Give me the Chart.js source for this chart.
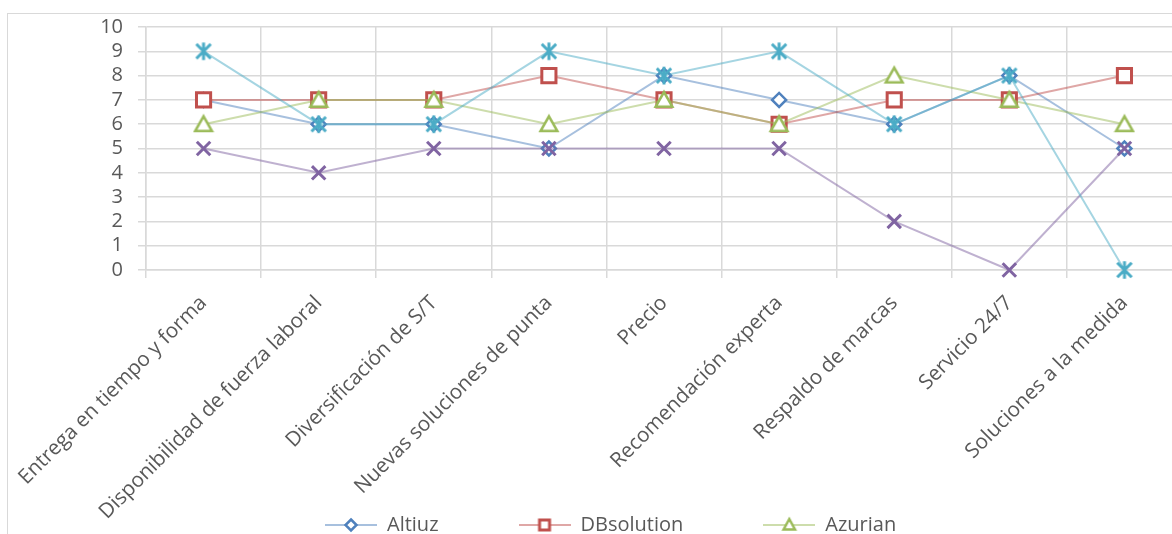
<!DOCTYPE html>
<html>
<head>
<meta charset="utf-8">
<script src="https://cdn.jsdelivr.net/npm/chart.js@4.4.1/dist/chart.umd.min.js"></script>
<style>
  html, body { margin: 0; padding: 0; width: 1172px; height: 534px; overflow: hidden; background: #fff; }
  #frame { position: absolute; left: 7px; top: 13px; width: 1300px; height: 700px;
           border-left: 1.5px solid #d9d9d9; border-top: 1.5px solid #d9d9d9; }
  #c { position: absolute; left: 0; top: 0; }
</style>
</head>
<body>
<div id="frame"></div>
<canvas id="c" width="1195" height="640"></canvas>
<script>
// Evaluation criteria (x axis)
const categories = [
  'Entrega en tiempo y forma',
  'Disponibilidad de fuerza laboral',
  'Diversificación de S/T',
  'Nuevas soluciones de punta',
  'Precio',
  'Recomendación experta',
  'Respaldo de marcas',
  'Servicio 24/7',
  'Soluciones a la medida'
];

// Scores per provider
const altiuz     = [7, 6, 6, 5, 8, 7, 6, 8, 5];
const dbsolution = [7, 7, 7, 8, 7, 6, 7, 7, 8];
const azurian    = [6, 7, 7, 6, 7, 6, 8, 7, 6];
const serie4     = [5, 4, 5, 5, 5, 5, 2, 0, 5];
const serie5     = [9, 6, 6, 9, 8, 9, 6, 8, 0];

const seriesNames = ['Altiuz', 'DBsolution', 'Azurian', 'Serie 4', 'Serie 5'];

// Value axis
const yMin = 0;
const yMax = 10;
const yStep = 1;

const FONT = "'Open Sans', 'Noto Sans', sans-serif";
const TEXT = '#595959';
const GRID = '#d9d9d9';

const COLORS = ['#4f81bd', '#c0504d', '#9bbb59', '#8064a2', '#4bacc6'];

function rgba(hex, a) {
  const n = parseInt(hex.slice(1), 16);
  return `rgba(${(n >> 16) & 255}, ${(n >> 8) & 255}, ${n & 255}, ${a})`;
}

// Open triangle marker, centred on its bounding box
function triangleMark(color, size) {
  const c = document.createElement('canvas');
  c.width = size; c.height = size;
  const g = c.getContext('2d');
  const m = size / 2, h = size * 0.36;
  g.beginPath();
  g.moveTo(m, m - h);
  g.lineTo(m + h * 1.05, m + h * 0.85);
  g.lineTo(m - h * 1.05, m + h * 0.85);
  g.closePath();
  g.fillStyle = '#fff';
  g.fill();
  g.lineWidth = 2.6;
  g.lineJoin = 'miter';
  g.strokeStyle = color;
  g.stroke();
  return c;
}

// Asterisk marker: a diagonal cross with a vertical bar
function starMark(color, size) {
  const c = document.createElement('canvas');
  c.width = size; c.height = size;
  const g = c.getContext('2d');
  const m = size / 2, d = size * 0.36, v = size * 0.44;
  g.strokeStyle = color;
  g.lineWidth = 3;
  g.beginPath();
  g.moveTo(m - d, m - d); g.lineTo(m + d, m + d);
  g.moveTo(m + d, m - d); g.lineTo(m - d, m + d);
  g.moveTo(m, m - v); g.lineTo(m, m + v);
  g.stroke();
  return c;
}

// Legend swatch: a short line with the series marker in the middle
function legendIcon(color, shape) {
  const w = 52, h = 20;
  const c = document.createElement('canvas');
  c.width = w; c.height = h;
  const g = c.getContext('2d');
  const cx = w / 2, cy = h / 2;
  g.strokeStyle = rgba(color, 0.5);
  g.lineWidth = 2;
  g.beginPath(); g.moveTo(0, cy); g.lineTo(w, cy); g.stroke();
  g.fillStyle = '#fff';
  g.strokeStyle = color;
  g.beginPath();
  if (shape === 'diamond') {
    const r = 5.5;
    g.lineWidth = 2.5;
    g.moveTo(cx, cy - r); g.lineTo(cx + r, cy); g.lineTo(cx, cy + r); g.lineTo(cx - r, cy); g.closePath();
  } else if (shape === 'square') {
    const s = 5;
    g.lineWidth = 3;
    g.rect(cx - s, cy - s, 2 * s, 2 * s);
  } else {
    const r = 6;
    g.lineWidth = 2.5;
    g.moveTo(cx, cy - r); g.lineTo(cx + r * 0.95, cy + r * 0.75); g.lineTo(cx - r * 0.95, cy + r * 0.75); g.closePath();
  }
  g.fill();
  g.stroke();
  return c;
}

const legendIcons = [
  legendIcon(COLORS[0], 'diamond'),
  legendIcon(COLORS[1], 'square'),
  legendIcon(COLORS[2], 'triangle')
];

function series(label, data, color, style, radius, borderWidth, order) {
  return {
    label, data, order,
    borderColor: rgba(color, 0.5),
    backgroundColor: rgba(color, 0.5),
    borderWidth: 2,
    tension: 0,
    clip: false,
    pointStyle: style,
    pointRadius: radius,
    pointHoverRadius: radius,
    pointBorderColor: color,
    pointBackgroundColor: '#fff',
    pointBorderWidth: borderWidth,
    pointHoverBorderWidth: borderWidth
  };
}

// Later series are painted over earlier ones
const datasets = [
  series(seriesNames[0], altiuz,     COLORS[0], 'rectRot', 7, 2.5, 5),
  series(seriesNames[1], dbsolution, COLORS[1], 'rect', 10, 3, 4),
  series(seriesNames[2], azurian,    COLORS[2], triangleMark(COLORS[2], 22), 9, 2.5, 3),
  series(seriesNames[3], serie4,     COLORS[3], 'crossRot', 9.5, 3, 2),
  series(seriesNames[4], serie5,     COLORS[4], starMark(COLORS[4], 20), 9, 3, 1)
];

// Legend row: first swatch starts at LEGEND_X, text centred on LEGEND_Y
const LEGEND_X = 325;
const LEGEND_Y = 525;
const legendPlacement = {
  id: 'legendPlacement',
  afterLayout(chart) {
    const lg = chart.legend;
    if (!lg) return;
    const pad = lg.options.labels.padding;
    const w = lg.right - lg.left;
    const h = lg.bottom - lg.top;
    lg.left = LEGEND_X - pad;
    lg.right = lg.left + w;
    lg.top = LEGEND_Y - lg.options.labels.font.size / 2 - pad;
    lg.bottom = lg.top + h;
  }
};

Chart.defaults.font.family = FONT;
Chart.defaults.color = TEXT;

new Chart(document.getElementById('c'), {
  type: 'line',
  data: { labels: categories, datasets },
  plugins: [legendPlacement],
  options: {
    responsive: false,
    animation: false,
    events: [],
    layout: { padding: { top: 27, left: 0, right: 10, bottom: 0 } },
    scales: {
      x: {
        type: 'category',
        offset: true,
        grid: { offset: true, color: GRID, lineWidth: 1.5, tickLength: 8, drawTicks: true },
        border: { color: GRID, width: 1.5 },
        ticks: { autoSkip: false, minRotation: 45, maxRotation: 45, padding: 13, color: TEXT, font: { size: 20.6 } },
        afterFit(scale) { scale.height = 260; }
      },
      y: {
        min: yMin,
        max: yMax,
        grid: { color: GRID, lineWidth: 1.5, tickLength: 8 },
        border: { color: GRID, width: 1.5 },
        ticks: { stepSize: yStep, autoSkip: false, padding: 15, color: TEXT, font: { size: 20, lineHeight: 1 } },
        afterFit(scale) { scale.width = 146; }
      }
    },
    plugins: {
      tooltip: { enabled: false },
      legend: {
        position: 'bottom',
        align: 'start',
        labels: {
          usePointStyle: true,
          pointStyleWidth: 52,
          boxHeight: 20,
          padding: 80,
          color: TEXT,
          font: { size: 20 },
          filter: (item) => item.datasetIndex < legendIcons.length,
          sort: (a, b) => a.datasetIndex - b.datasetIndex,
          generateLabels(chart) {
            const items = Chart.defaults.plugins.legend.labels.generateLabels(chart);
            items.forEach(it => { if (legendIcons[it.datasetIndex]) it.pointStyle = legendIcons[it.datasetIndex]; });
            return items;
          }
        }
      }
    }
  }
});
</script>
</body>
</html>
